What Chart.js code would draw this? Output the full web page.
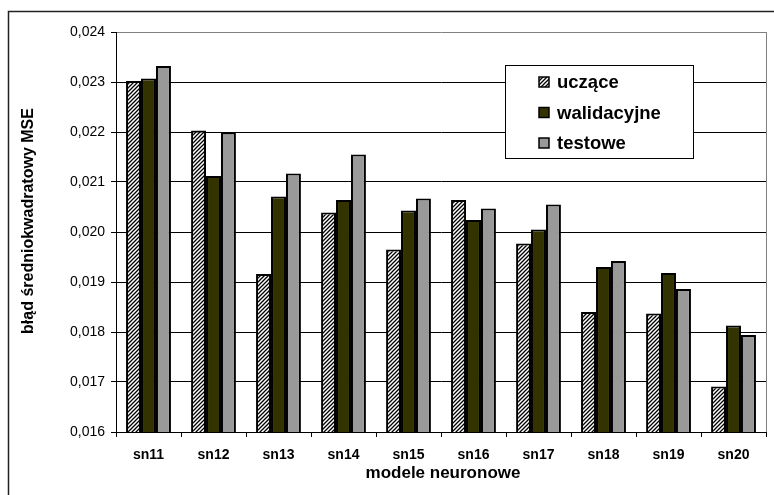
<!DOCTYPE html>
<html>
<head>
<meta charset="utf-8">
<script src="https://cdn.jsdelivr.net/npm/chart.js@4/dist/chart.umd.min.js"></script>
<style>
  html, body { margin: 0; padding: 0; background: #fff; overflow: hidden; }
  #wrap { width: 774px; height: 495px; position: relative; }
</style>
</head>
<body>
<div id="wrap"><canvas id="c"></canvas></div>
<script>
// Models and mean squared error per data subset
const categories = ['sn11', 'sn12', 'sn13', 'sn14', 'sn15', 'sn16', 'sn17', 'sn18', 'sn19', 'sn20'];
const seriesNames = ['uczące', 'walidacyjne', 'testowe'];
const uczace      = [0.02302, 0.02203, 0.01916, 0.02039, 0.01965, 0.02064, 0.01977, 0.01840, 0.01837, 0.01691];
const walidacyjne = [0.02307, 0.02112, 0.02071, 0.02064, 0.02043, 0.02024, 0.02005, 0.01930, 0.01918, 0.01813];
const testowe     = [0.02332, 0.02199, 0.02117, 0.02155, 0.02067, 0.02047, 0.02055, 0.01942, 0.01886, 0.01794];
const yTickValues = [0.016, 0.017, 0.018, 0.019, 0.020, 0.021, 0.022, 0.023, 0.024];
const yTitle = 'błąd średniokwadratowy MSE';
const xTitle = 'modele neuronowe';

const FONT = '"Liberation Sans", Arial, sans-serif';

// diagonal hatch fill for the training series
function makeHatch() {
  const p = document.createElement('canvas');
  p.width = 4; p.height = 4;
  const g = p.getContext('2d');
  g.fillStyle = '#fff';
  g.fillRect(0, 0, 4, 4);
  g.strokeStyle = '#000';
  g.lineWidth = 1.3;
  g.beginPath();
  g.moveTo(-1, 5); g.lineTo(5, -1);
  g.moveTo(-1, 1); g.lineTo(1, -1);
  g.moveTo(3, 5); g.lineTo(5, 3);
  g.stroke();
  return document.getElementById('c').getContext('2d').createPattern(p, 'repeat');
}
const hatch = makeHatch();
const fills = [hatch, '#333300', '#999999'];

const decorations = {
  id: 'decorations',
  beforeDraw(chart) {
    const ctx = chart.ctx;
    ctx.save();
    ctx.fillStyle = '#fff';
    ctx.fillRect(0, 0, chart.width, chart.height);
    ctx.restore();
  },
  afterDraw(chart) {
    const ctx = chart.ctx;
    const a = chart.chartArea;
    ctx.save();
    // outer frame (continues past the right and bottom edges)
    ctx.strokeStyle = '#222';
    ctx.lineWidth = 1.5;
    ctx.beginPath();
    ctx.moveTo(8.5, chart.height + 2);
    ctx.lineTo(8.5, 11.5);
    ctx.lineTo(chart.width + 2, 11.5);
    ctx.stroke();
    // plot area right edge
    ctx.strokeStyle = '#808080';
    ctx.lineWidth = 1;
    ctx.beginPath();
    ctx.moveTo(Math.round(a.right) + 0.5, a.top);
    ctx.lineTo(Math.round(a.right) + 0.5, a.bottom);
    ctx.stroke();

    // axis titles
    ctx.fillStyle = '#000';
    ctx.font = 'bold 17px ' + FONT;
    ctx.textAlign = 'center';
    ctx.textBaseline = 'middle';
    ctx.fillText(xTitle, (a.left + a.right) / 2 + 2, 473);
    ctx.font = 'bold 16px ' + FONT;
    ctx.save();
    ctx.translate(29, 221);
    ctx.rotate(-Math.PI / 2);
    ctx.fillText(yTitle, 0, 0);
    ctx.restore();

    // legend
    const bx = 505.5, by = 65.5, bw = 188, bh = 93;
    ctx.fillStyle = '#fff';
    ctx.fillRect(bx, by, bw, bh);
    ctx.strokeStyle = '#000';
    ctx.lineWidth = 1;
    ctx.strokeRect(bx, by, bw, bh);
    const rows = [82, 112.5, 143];
    chart.data.datasets.forEach((ds, i) => {
      const cy = rows[i];
      ctx.fillStyle = ds.backgroundColor;
      ctx.fillRect(539, cy - 5, 10, 10);
      ctx.strokeStyle = '#000';
      ctx.lineWidth = 1.5;
      ctx.strokeRect(539, cy - 5, 10, 10);
      ctx.fillStyle = '#000';
      ctx.font = 'bold 18.5px ' + FONT;
      ctx.textAlign = 'left';
      ctx.textBaseline = 'middle';
      ctx.fillText(ds.label, 557, cy + 1);
    });
    ctx.restore();
  }
};

const seriesValues = [uczace, walidacyjne, testowe];
new Chart(document.getElementById('c'), {
  type: 'bar',
  data: {
    labels: categories,
    datasets: seriesNames.map((name, i) => ({
      label: name,
      data: seriesValues[i],
      backgroundColor: fills[i],
      borderColor: '#000',
      borderWidth: 2,
      borderSkipped: false,
      categoryPercentage: 0.69,
      barPercentage: 1.0
    }))
  },
  options: {
    responsive: true,
    maintainAspectRatio: false,
    animation: false,
    devicePixelRatio: 1,
    layout: { padding: { top: 32, right: 8, left: 0, bottom: 0 } },
    plugins: { legend: { display: false }, tooltip: { enabled: false }, title: { display: false } },
    scales: {
      x: {
        grid: { drawOnChartArea: false, drawTicks: true, tickLength: 5, tickColor: '#000', offset: true },
        border: { color: '#000', width: 1 },
        ticks: { color: '#000', font: { family: FONT, size: 14, weight: 'bold' }, padding: 10, maxRotation: 0 },
        afterFit(scale) { scale.height = 63; }
      },
      y: {
        min: 0.016,
        max: 0.024,
        afterBuildTicks(scale) { scale.ticks = yTickValues.map(v => ({ value: v })); },
        grid: {
          color: ctx => (ctx.tick && Math.abs(ctx.tick.value - 0.024) < 1e-9) ? '#808080' : '#000',
          tickColor: '#000',
          tickLength: 5,
          lineWidth: 1
        },
        border: { color: '#000', width: 1 },
        ticks: {
          color: '#000',
          font: { family: FONT, size: 14 },
          padding: 6,
          callback: v => Number(v).toFixed(3).replace('.', ',')
        },
        afterFit(scale) { scale.width = 116; }
      }
    }
  },
  plugins: [decorations]
});
</script>
</body>
</html>
